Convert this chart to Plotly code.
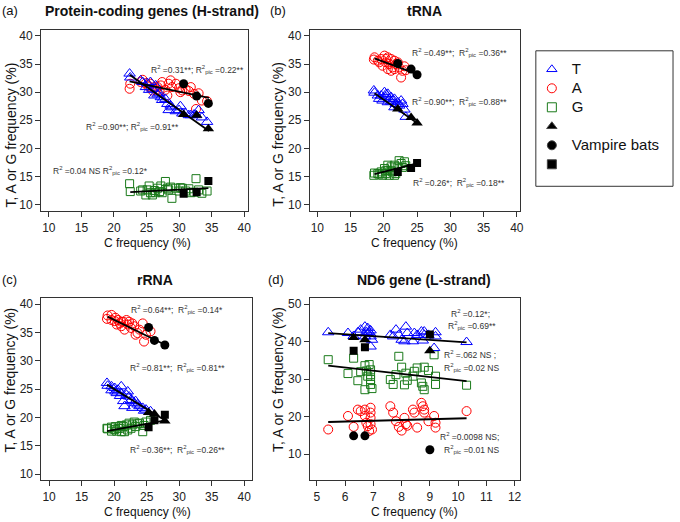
import plotly.graph_objects as go

# ---- data ----
# (a) protein-coding genes, H-strand
a_C = [22.4, 22.5, 24.1, 24.4, 24.9, 25.1, 25.4, 25.6, 25.9, 26.2, 26.4, 26.7, 27.0, 27.2, 27.4, 27.9,
       28.2, 28.4, 28.7, 28.9, 29.5, 30.0, 30.2, 30.5, 31.0, 31.5, 31.8, 32.3, 32.6, 33.0, 33.5, 34.3]
a_T = [33.3, 32.6, 32.1, 31.8, 30.9, 31.6, 30.4, 31.8, 30.6, 29.4, 31.2, 29.6, 29.8, 29.1, 28.6, 28.8,
       27.9, 26.8, 27.6, 27.3, 26.6, 26.8, 27.5, 26.2, 26.2, 25.9, 25.9, 26.0, 25.9, 26.8, 25.5, 24.7]
a_A = [30.6, 31.5, 31.8, 32.2, 31.6, 31.2, 31.0, 31.5, 30.3, 30.9, 30.4, 30.9, 30.3, 31.2, 31.8, 30.4,
       29.4, 31.5, 32.1, 30.9, 31.5, 30.7, 30.0, 30.3, 30.6, 30.2, 30.9, 29.7, 27.0, 29.8, 28.5, 28.4]
a_G = [13.7, 12.3, 12.4, 12.6, 11.7, 12.6, 13.3, 12.1, 11.7, 12.5, 12.1, 12.9, 12.3, 13.3, 12.1, 14.1,
       12.9, 12.6, 13.1, 11.1, 12.9, 12.4, 13.0, 12.9, 12.4, 12.8, 12.1, 12.2, 14.6, 12.6, 12.0, 12.4]
a_vC = [30.7, 32.7, 34.5]
a_vT = [26.0, 25.9, 23.5]
a_vA = [31.5, 29.3, 28.0]
a_vG = [11.9, 12.2, 14.2]
a_fitx = {'T': [22.4, 34.6], 'A': [22.4, 34.6], 'G': [22.5, 34.5]}
a_fity = {'T': [33.1, 23.1], 'A': [31.9, 29.0], 'G': [12.2, 12.9]}

# (b) tRNA
b_C = [18.5, 18.6, 19.1, 19.3, 19.6, 19.8, 20.1, 20.3, 20.3, 20.6, 20.6, 20.8, 21.1, 21.1, 21.3, 21.6,
       21.6, 21.8, 22.1, 22.3, 22.6, 22.8, 23.1, 23.3]
b_T = [30.3, 29.9, 29.4, 28.8, 29.4, 28.5, 30.0, 29.1, 29.6, 29.7, 28.2, 28.8, 29.1, 28.3, 28.5, 28.8,
       27.3, 27.9, 28.2, 27.6, 28.5, 27.9, 26.9, 25.6]
b_A = [35.8, 36.2, 35.6, 35.3, 35.9, 34.7, 36.5, 35.3, 35.9, 36.2, 34.1, 35.0, 35.9, 33.8, 34.4, 35.6,
       34.1, 35.0, 35.3, 34.4, 32.6, 33.8, 34.6, 33.9]
b_G = [15.2, 15.6, 15.5, 15.4, 15.8, 15.2, 16.4, 15.5, 16.0, 16.1, 17.0, 15.2, 16.7, 16.0, 15.8, 17.0,
       15.2, 15.5, 16.7, 17.8, 17.3, 16.6, 17.6, 16.9]
b_vC = [22.1, 24.1, 25.0]
b_vT = [27.0, 25.5, 24.5]
b_vA = [35.1, 34.1, 33.1]
b_vG = [15.8, 16.5, 17.4]
b_fitx = {'T': [18.6, 25.0], 'A': [18.6, 25.0], 'G': [18.6, 25.0]}
b_fity = {'T': [29.8, 24.5], 'A': [36.0, 33.2], 'G': [15.4, 17.3]}

# (c) rRNA
c_C = [18.9, 19.0, 19.6, 19.6, 20.1, 20.2, 20.4, 20.6, 20.9, 21.1, 21.1, 21.4, 21.6, 21.9, 22.1, 22.3,
       22.6, 22.8, 23.1, 23.3, 23.6, 23.9, 24.4, 24.6, 24.9, 25.6]
c_T = [26.1, 25.6, 25.5, 24.8, 25.2, 24.6, 24.3, 24.9, 23.8, 24.3, 25.5, 22.9, 22.0, 24.0, 24.6, 23.7,
       23.1, 21.7, 22.6, 22.9, 22.3, 22.0, 21.7, 21.2, 21.4, 21.1]
c_A = [37.4, 38.0, 38.1, 37.2, 37.0, 37.6, 36.4, 37.2, 36.6, 36.1, 36.9, 36.9, 35.5, 37.2, 36.4, 36.9,
       35.8, 36.6, 36.1, 34.6, 34.9, 35.5, 36.6, 33.4, 34.6, 35.2]
c_G = [18.1, 18.0, 17.6, 18.3, 17.9, 18.4, 17.6, 18.1, 18.1, 17.5, 18.6, 18.4, 17.5, 18.7, 17.8, 19.0,
       18.1, 18.7, 19.2, 18.4, 18.9, 19.0, 17.5, 18.6, 19.2, 19.5]
c_vC = [25.3, 26.2, 27.8]
c_vT = [20.9, 20.6, 19.4]
c_vA = [35.9, 33.6, 32.8]
c_vG = [18.3, 19.5, 20.5]
c_fitx = {'T': [18.9, 28.0], 'A': [19.0, 27.9], 'G': [18.9, 27.9]}
c_fity = {'T': [25.8, 19.4], 'A': [37.8, 32.8], 'G': [17.6, 19.5]}

# (d) ND6 gene, L-strand
d_C = [5.4, 6.1, 6.3, 6.45, 6.55, 6.7, 6.7, 6.75, 6.8, 6.85, 6.9, 6.9, 6.9, 6.9, 6.95, 7.6, 7.7, 7.8,
       7.9, 8.0, 8.1, 8.15, 8.2, 8.4, 8.45, 8.55, 8.7, 8.75, 8.8, 8.8, 8.95, 9.15, 9.2, 9.2, 10.3]
d_T = [42.5, 42.3, 41.5, 42.5, 43.2, 44.0, 41.4, 42.6, 43.6, 42.5, 41.4, 38.7, 43.0, 42.0, 40.5, 41.8,
       41.4, 43.2, 41.8, 40.5, 40.1, 44.0, 42.3, 40.1, 42.3, 41.8, 42.7, 40.3, 41.8, 42.7, 41.8, 38.3,
       42.5, 41.4, 39.9]
d_A = [16.6, 20.2, 17.3, 21.9, 21.5, 21.9, 20.2, 18.4, 17.5, 16.2, 22.4, 21.1, 19.7, 18.0, 16.6, 22.8,
       21.1, 18.8, 17.3, 16.3, 19.7, 18.0, 17.6, 21.9, 21.1, 17.1, 23.7, 22.8, 21.9, 21.1, 18.8, 20.2,
       18.4, 17.1, 21.5]
d_G = [35.2, 31.5, 35.6, 29.6, 32.0, 33.6, 27.2, 32.2, 30.8, 33.9, 32.5, 31.2, 29.9, 28.6, 27.5, 29.9,
       28.6, 31.2, 36.1, 33.2, 28.5, 31.6, 29.7, 30.8, 32.1, 33.0, 29.0, 28.1, 27.2, 33.2, 32.3, 36.5,
       30.8, 28.6, 28.4]
d_vC = [6.3, 6.7, 9.0]
d_vT = [41.1, 40.5, 37.6]
d_vA = [14.9, 14.9, 11.2]
d_vG = [37.6, 38.5, 41.9]
d_fitx = {'T': [5.4, 10.3], 'A': [5.4, 10.3], 'G': [5.4, 10.3]}
d_fity = {'T': [42.3, 39.8], 'A': [18.6, 19.6], 'G': [33.6, 29.5]}

FONT = 'Liberation Sans, Arial, sans-serif'
BLUE, RED, GREEN = '#0000ff', '#ff0000', '#1a7a1a'
W, H = 680, 522

panels = [
    ('', a_C, a_T, a_A, a_G, a_vC, a_vT, a_vA, a_vG, a_fitx, a_fity),
    ('2', b_C, b_T, b_A, b_G, b_vC, b_vT, b_vA, b_vG, b_fitx, b_fity),
    ('3', c_C, c_T, c_A, c_G, c_vC, c_vT, c_vA, c_vG, c_fitx, c_fity),
    ('4', d_C, d_T, d_A, d_G, d_vC, d_vT, d_vA, d_vG, d_fitx, d_fity),
]

fig = go.Figure()

for sfx, C, T, A, G, vC, vT, vA, vG, fx, fy in panels:
    xa, ya = 'x' + sfx, 'y' + sfx
    fig.add_trace(go.Scatter(x=C, y=G, mode='markers', xaxis=xa, yaxis=ya, showlegend=False,
                             marker=dict(symbol='square-open', size=8, color=GREEN, line=dict(width=1))))
    fig.add_trace(go.Scatter(x=C, y=A, mode='markers', xaxis=xa, yaxis=ya, showlegend=False,
                             marker=dict(symbol='circle-open', size=9, color=RED, line=dict(width=1))))
    fig.add_trace(go.Scatter(x=C, y=T, mode='markers', xaxis=xa, yaxis=ya, showlegend=False,
                             marker=dict(symbol='triangle-up-open', size=10, color=BLUE, line=dict(width=1))))
    fig.add_trace(go.Scatter(x=vC, y=vT, mode='markers', xaxis=xa, yaxis=ya, showlegend=False,
                             marker=dict(symbol='triangle-up', size=10, color='black')))
    fig.add_trace(go.Scatter(x=vC, y=vA, mode='markers', xaxis=xa, yaxis=ya, showlegend=False,
                             marker=dict(symbol='circle', size=9, color='black')))
    fig.add_trace(go.Scatter(x=vC, y=vG, mode='markers', xaxis=xa, yaxis=ya, showlegend=False,
                             marker=dict(symbol='square', size=8, color='black')))
    for k in ['T', 'A', 'G']:
        fig.add_trace(go.Scatter(x=fx[k], y=fy[k], mode='lines', xaxis=xa, yaxis=ya, showlegend=False,
                                 line=dict(color='black', width=1.8)))

# legend entries (text bumped up inside a span so the row spacing stays tight)
big = '<span style="font-size:15px">%s</span>'
leg = [(big % 'T', 'triangle-up-open', BLUE), (big % 'A', 'circle-open', RED),
       (big % 'G', 'square-open', GREEN), (' ', 'triangle-up', 'black'),
       (big % 'Vampire bats', 'circle', 'black'), ('  ', 'square', 'black')]
for name, sym, col in leg:
    fig.add_trace(go.Scatter(x=[None], y=[None], mode='markers', name=name,
                             marker=dict(symbol=sym, size=9, color=col, line=dict(width=1))))


def ax(domain, rng, dtick, anchor):
    return dict(domain=domain, range=rng, dtick=dtick, anchor=anchor, showgrid=False, zeroline=False,
                showline=True, mirror=True, linecolor='#333', linewidth=1, ticks='outside', ticklen=5,
                tickcolor='#333', tickfont=dict(size=12, color='#222'))


fig.update_layout(
    width=W, height=H, margin=dict(l=0, r=0, t=0, b=0),
    paper_bgcolor='white', plot_bgcolor='white',
    font=dict(family=FONT, color='#222'),
    xaxis=ax([41.3 / W, 249.3 / W], [8.8, 40.56], 5, 'y'),
    yaxis=ax([1 - 211 / H, 1 - 29 / H], [8.81, 41.08], 5, 'x'),
    xaxis2=ax([311.7 / W, 523.3 / W], [8.88, 40.51], 5, 'y2'),
    yaxis2=ax([1 - 211 / H, 1 - 29 / H], [8.81, 41.08], 5, 'x2'),
    xaxis3=ax([41.7 / W, 253.3 / W], [8.83, 41.17], 5, 'y3'),
    yaxis3=ax([1 - 481 / H, 1 - 297.7 / H], [8.95, 41.16], 5, 'x3'),
    xaxis4=ax([311.7 / W, 523.3 / W], [4.75, 12.2], 1, 'y4'),
    yaxis4=ax([1 - 481 / H, 1 - 297.7 / H], [3.1, 51.75], 10, 'x4'),
    legend=dict(x=535 / W, y=1 - 54 / H, xanchor='left', yanchor='top', bgcolor='rgba(0,0,0,0)',
                font=dict(size=12.3, color='#111'), tracegroupgap=0, itemwidth=30),
    showlegend=True,
)

# legend frame
fig.add_shape(type='rect', xref='paper', yref='paper', x0=539 / W, x1=677 / W, y0=1 - 186 / H, y1=1 - 50 / H,
              line=dict(color='#333', width=1))

ann = []


def paper_text(txt, x, y, size, bold=False, angle=0):
    if bold:
        txt = '<b>' + txt + '</b>'
    ann.append(dict(text=txt, x=x / W, y=1 - y / H, xref='paper', yref='paper', showarrow=False,
                    xanchor='center', yanchor='middle', textangle=angle, font=dict(size=size, color='#111')))


# panel letters and titles
paper_text('(a)', 10, 10, 13)
paper_text('Protein-coding genes (H-strand)', 153, 10, 14, bold=True)
paper_text('(b)', 280, 10, 13)
paper_text('tRNA', 427, 10, 14, bold=True)
paper_text('(c)', 10, 280, 13)
paper_text('rRNA', 156, 280, 14, bold=True)
paper_text('(d)', 278, 280, 13)
paper_text('ND6 gene (L-strand)', 427, 280, 14, bold=True)

# axis titles
for xc, yc in [(148, 243), (417, 243), (148, 513), (417, 513)]:
    paper_text('C frequency (%)', xc, yc, 12)
for xc, yc in [(12, 134), (280, 134), (10, 380), (279, 380)]:
    paper_text('T, A or G frequency (%)', xc, yc, 14, angle=-90)

R2 = 'R<sup>2</sup> ='
RP = 'R<sup>2</sup><sub>pic</sub> ='


def stat(txt, sfx, x, y, anchor='left'):
    ann.append(dict(text=txt, x=x, y=y, xref='x' + sfx, yref='y' + sfx, showarrow=False,
                    xanchor=anchor, yanchor='middle', font=dict(size=8.5, color='#333')))


stat(R2 + '0.31**; ' + RP + '0.22**', '', 25.4, 34.1)
stat(R2 + '0.90**; ' + RP + '0.91**', '', 15.4, 23.9)
stat(R2 + '0.04 NS ' + RP + '0.12*', '', 10.3, 16.1)
stat(R2 + '0.49**;  ' + RP + '0.36**', '2', 23.9, 37.1)
stat(R2 + '0.90**;  ' + RP + '0.88**', '2', 23.9, 28.4)
stat(R2 + '0.26*;  ' + RP + '0.18**', '2', 24.1, 14.0)
stat(R2 + '0.64**;  ' + RP + '0.14*', '3', 22.3, 39.0)
stat(R2 + '0.81**;  ' + RP + '0.81**', '3', 22.2, 28.75)
stat(R2 + '0.36**;  ' + RP + '0.26**', '3', 22.2, 14.4)
stat(R2 + '0.12*;', '4', 10.44, 47.6, 'center')
stat(RP + '0.69**', '4', 10.5, 44.3, 'center')
stat(R2 + '.062 NS ;', '4', 9.44, 36.7)
stat(RP + '0.02 NS', '4', 9.44, 33.2)
stat(R2 + '0.0098 NS;', '4', 9.29, 14.85)
stat(RP + '0.01 NS', '4', 9.44, 11.3)

fig.update_layout(annotations=ann)

# the page body has a default 8px margin; drop it so the figure sits at the window's corner
fig.write_html('out.html', config={'displayModeBar': False},
               post_script="document.body.style.margin='0';")
